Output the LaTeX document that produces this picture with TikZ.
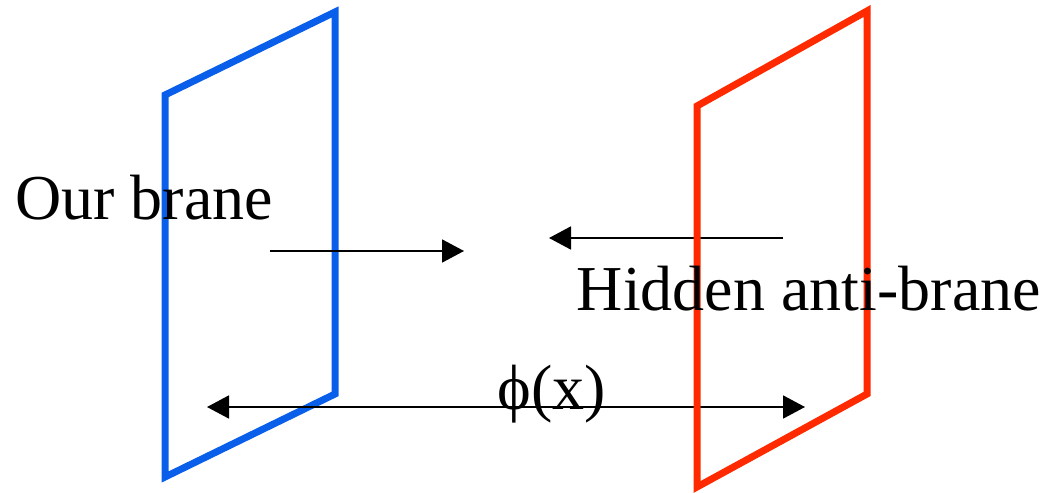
\documentclass[tikz,border=0pt]{standalone}
\usepackage{fontspec}
\setmainfont{Liberation Serif}
\usepackage{tikz}
\usetikzlibrary{arrows.meta}
\definecolor{brane-blue}{HTML}{0A5FEA}
\definecolor{brane-red}{HTML}{FF2A00}

\tikzset{
  brane/.style={line width=7pt,line join=miter},
  push/.style={line width=1.8pt,-{Triangle[length=22pt,width=23pt]}},
  span/.style={line width=1.8pt,{Triangle[length=22pt,width=23pt]}-{Triangle[length=22pt,width=23pt]}},
  label/.style={font=\fontsize{64}{70}\selectfont,inner sep=0pt}
}

\begin{document}
\begin{tikzpicture}[x=1pt,y=-1pt]
  \useasboundingbox (0,0) rectangle (1048,492);
  % Hjoerner af vores brane
  \coordinate (B1) at (165,95);
  \coordinate (B2) at (335,12);
  \coordinate (B3) at (335,394);
  \coordinate (B4) at (165,477);
  % Hjoerner af anti-branen
  \coordinate (R1) at (697,106);
  \coordinate (R2) at (867,11);
  \coordinate (R3) at (867,394);
  \coordinate (R4) at (697,487);
  % Pile-endepunkter
  \coordinate (P1) at (270,251);
  \coordinate (P2) at (464,251);
  \coordinate (Q1) at (783,238);
  \coordinate (Q2) at (549,238);
  \coordinate (S1) at (207,407);
  \coordinate (S2) at (805,407);

  % Branerne
  \draw[brane,brane-blue] (B1) -- (B2) -- (B3) -- (B4) -- cycle;
  % Pile
  \draw[push] (P1) -- (P2);
  \draw[push] (Q1) -- (Q2);
  \draw[span] (S1) -- (S2);
  \draw[brane,brane-red] (R1) -- (R2) -- (R3) -- (R4) -- cycle;
  % Tekster
  \node[label,anchor=base west] (our) at (15,219) {Our brane};
  \node[label,anchor=base east] (hidden) at (1041,310) {Hidden anti-brane};
  \node[label,anchor=base] (phi) at (552,409) {ϕ(x)};
\end{tikzpicture}
\end{document}
